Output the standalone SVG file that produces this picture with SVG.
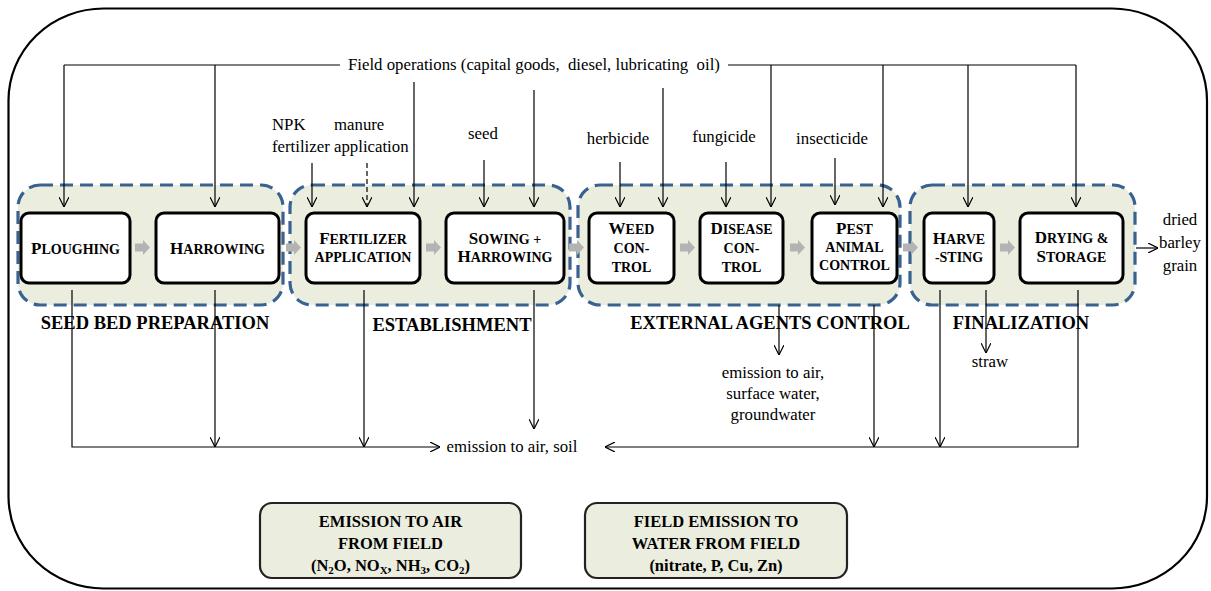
<svg xmlns="http://www.w3.org/2000/svg" width="1211" height="591" viewBox="0 0 1211 591" font-family="'Liberation Serif', 'DejaVu Serif', serif">
<defs>
<marker id="ah" viewBox="0 0 10 10" refX="10" refY="5" markerWidth="10" markerHeight="10" markerUnits="userSpaceOnUse" orient="auto">
<path d="M0,0 L10,5 L0,10" fill="none" stroke="#000" stroke-width="1.2"/>
</marker>
<path id="ga" d="M0,-4 L8,-4 L8,-7.5 L15,0 L8,7.5 L8,4 L0,4 Z" fill="#b3b3b3"/>
</defs>
<style>
text, tspan { font-family: 'Liberation Serif', 'DejaVu Serif', serif; fill: #000; }
.grp{fill:#ebeedf;stroke:#3a6290;stroke-width:3.2;stroke-dasharray:13 7}
.node{fill:#fff;stroke:#000;stroke-width:3}
.nt{font-weight:bold;font-size:14px;text-anchor:middle}
.big{font-size:17px}
.gl{font-weight:bold;font-size:18.5px;text-anchor:middle}
.lbl{font-size:16.8px}
.lc{font-size:16.8px;text-anchor:middle}
.c{fill:none;stroke:#000;stroke-width:1.2}
.ca{fill:none;stroke:#000;stroke-width:1.2;marker-end:url(#ah)}
.box{fill:#ebeedf;stroke:#222;stroke-width:2.2}
.bt{font-weight:bold;font-size:16.5px;text-anchor:middle}
</style>
<rect x="8.5" y="8.5" width="1198.5" height="580" rx="95" ry="92" fill="#fff" stroke="#000" stroke-width="2.2"/>

<g id="group-seedbed"><rect class="grp" x="18" y="185" width="265" height="120" rx="22"/><text class="gl" x="155" y="329">SEED BED PREPARATION</text></g>
<g id="group-establishment"><rect class="grp" x="290" y="185" width="280" height="120" rx="22"/><text class="gl" x="452" y="331">ESTABLISHMENT</text></g>
<g id="group-external"><rect class="grp" x="578" y="185" width="322" height="120" rx="22"/><text class="gl" x="770" y="329">EXTERNAL AGENTS CONTROL</text></g>
<g id="group-finalization"><rect class="grp" x="910" y="185" width="225" height="120" rx="22"/><text class="gl" x="1021" y="329">FINALIZATION</text></g>

<g id="connectors">
<path class="c" d="M64,65 H340 M728,65 H1076"/>
<path class="ca" d="M64,65 V207"/>
<path class="ca" d="M215,65 V207"/>
<path class="ca" d="M414,82 V207"/>
<path class="ca" d="M534,90 V207"/>
<path class="ca" d="M663,88 V207"/>
<path class="ca" d="M771,65 V207"/>
<path class="ca" d="M883,65 V207"/>
<path class="ca" d="M968,65 V207"/>
<path class="ca" d="M1076,65 V207"/>
<path class="ca" d="M312,163 V207"/>
<path class="ca" d="M367,163 V207" stroke-dasharray="5 3"/>
<path class="ca" d="M484,160 V207"/>
<path class="ca" d="M620,162 V207"/>
<path class="ca" d="M726,162 V207"/>
<path class="ca" d="M835,158 V205"/>
<path class="ca" d="M1136,248 H1158"/>
<path class="ca" d="M72,290 V447 H440"/>
<path class="ca" d="M215,290 V447"/>
<path class="ca" d="M364,290 V447"/>
<path class="ca" d="M534,290 V429"/>
<path class="ca" d="M779,305 V355"/>
<path class="ca" d="M874,305 V447"/>
<path class="ca" d="M940,290 V447"/>
<path class="ca" d="M986,290 V353"/>
<path class="ca" d="M1078,290 V447 H605"/>
<use href="#ga" x="135" y="247.5"/>
<use href="#ga" x="286" y="247.5"/>
<use href="#ga" x="426" y="247.5"/>
<use href="#ga" x="569" y="247.5"/>
<use href="#ga" x="680" y="247.5"/>
<use href="#ga" x="790" y="247.5"/>
<use href="#ga" x="903" y="247.5"/>
<use href="#ga" x="1000" y="247.5"/>
</g>

<g id="node-ploughing"><rect class="node" x="21" y="213" width="109" height="70" rx="8"/><text class="nt" x="75.5" y="254"><tspan class="big">P</tspan>LOUGHING</text></g>
<g id="node-harrowing"><rect class="node" x="156" y="213" width="123" height="70" rx="8"/><text class="nt" x="217.5" y="254"><tspan class="big">H</tspan>ARROWING</text></g>
<g id="node-fertilizer"><rect class="node" x="306" y="213" width="114" height="70" rx="8"/><text class="nt" x="363" y="244"><tspan class="big">F</tspan>ERTILIZER</text><text class="nt" x="363" y="262">APPLICATION</text></g>
<g id="node-sowing"><rect class="node" x="446" y="213" width="118" height="70" rx="8"/><text class="nt" x="505" y="244"><tspan class="big">S</tspan>OWING +</text><text class="nt" x="505" y="262"><tspan class="big">H</tspan>ARROWING</text></g>
<g id="node-weed"><rect class="node" x="589" y="213" width="85" height="70" rx="8"/><text class="nt" x="631.5" y="234"><tspan class="big">W</tspan>EED</text><text class="nt" x="631.5" y="253">CON-</text><text class="nt" x="631.5" y="272">TROL</text></g>
<g id="node-disease"><rect class="node" x="700" y="213" width="83" height="70" rx="8"/><text class="nt" x="741.5" y="234"><tspan class="big">D</tspan>ISEASE</text><text class="nt" x="741.5" y="253">CON-</text><text class="nt" x="741.5" y="272">TROL</text></g>
<g id="node-pest"><rect class="node" x="812" y="213" width="85" height="70" rx="8"/><text class="nt" x="854.5" y="234"><tspan class="big">P</tspan>EST</text><text class="nt" x="854.5" y="252">ANIMAL</text><text class="nt" x="854.5" y="270">CONTROL</text></g>
<g id="node-harvesting"><rect class="node" x="924" y="213" width="70" height="70" rx="8"/><text class="nt" x="959" y="244"><tspan class="big">H</tspan>ARVE</text><text class="nt" x="959" y="262">-STING</text></g>
<g id="node-drying"><rect class="node" x="1020" y="213" width="103" height="70" rx="8"/><text class="nt" x="1071.5" y="243"><tspan class="big">D</tspan>RYING &amp;</text><text class="nt" x="1071.5" y="262"><tspan class="big">S</tspan>TORAGE</text></g>

<g id="labels">
<text class="lbl" x="348" y="70" xml:space="preserve">Field operations (capital goods,  diesel, lubricating  oil)</text>
<text class="lbl" x="272" y="130">NPK</text>
<text class="lbl" x="272" y="152">fertilizer</text>
<text class="lbl" x="334" y="130">manure</text>
<text class="lbl" x="334" y="152">application</text>
<text class="lc" x="483" y="139">seed</text>
<text class="lc" x="618" y="144">herbicide</text>
<text class="lc" x="724" y="142">fungicide</text>
<text class="lc" x="832" y="144">insecticide</text>
<text class="lc" x="1180" y="225">dried</text>
<text class="lc" x="1180" y="248">barley</text>
<text class="lc" x="1180" y="271">grain</text>
<text class="lc" x="512" y="452">emission to air, soil</text>
<text class="lc" x="773" y="378">emission to air,</text>
<text class="lc" x="773" y="399">surface water,</text>
<text class="lc" x="773" y="420">groundwater</text>
<text class="lc" x="990" y="367">straw</text>
</g>

<g id="box-air"><rect class="box" x="260" y="503" width="261" height="75" rx="12"/>
<text class="bt" x="390.5" y="527">EMISSION TO AIR</text>
<text class="bt" x="390.5" y="549">FROM FIELD</text>
<text class="bt" x="390.5" y="571">(N<tspan font-size="11" dy="3">2</tspan><tspan dy="-3">O, NO</tspan><tspan font-size="11" dy="3">X</tspan><tspan dy="-3">, NH</tspan><tspan font-size="11" dy="3">3</tspan><tspan dy="-3">, CO</tspan><tspan font-size="11" dy="3">2</tspan><tspan dy="-3">)</tspan></text>
</g>
<g id="box-water"><rect class="box" x="585" y="503" width="262" height="75" rx="12"/>
<text class="bt" x="716" y="527">FIELD EMISSION TO</text>
<text class="bt" x="716" y="549">WATER FROM FIELD</text>
<text class="bt" x="716" y="571">(nitrate, P, Cu, Zn)</text>
</g>
</svg>
